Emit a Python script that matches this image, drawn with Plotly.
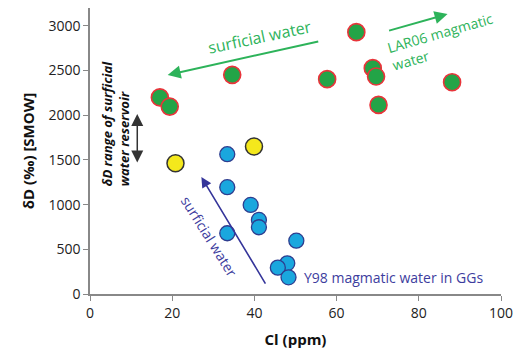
import plotly.graph_objects as go

# LAR06 magmatic water (green)
lar_cl = [17.0, 19.4, 34.6, 64.8, 57.7, 68.8, 69.6, 70.2, 88.1]
lar_dd = [2200, 2097, 2452, 2930, 2404, 2527, 2434, 2116, 2370]
# Yellow points
yel_cl = [20.8, 39.9]
yel_dd = [1463, 1650]
# Y98 magmatic water in GGs (blue)
y98_cl = [33.4, 33.4, 39.1, 41.1, 41.1, 33.4, 50.2, 48.0, 45.7, 48.3]
y98_dd = [1564, 1195, 997, 829, 747, 680, 597, 343, 295, 187]

x_ticks = [0, 20, 40, 60, 80, 100]
y_ticks = [0, 500, 1000, 1500, 2000, 2500, 3000]

FONT = "Open Sans"
GREEN = "#2db35a"
BLUE_T = "#3d3d9e"

fig = go.Figure()
fig.add_trace(go.Scatter(x=y98_cl, y=y98_dd, mode="markers",
                         marker=dict(size=15, color="#1aa7de", line=dict(color="#2e3d8f", width=1.3))))
fig.add_trace(go.Scatter(x=yel_cl, y=yel_dd, mode="markers",
                         marker=dict(size=17, color="#f4e81c", line=dict(color="#333333", width=1.5))))
fig.add_trace(go.Scatter(x=lar_cl, y=lar_dd, mode="markers",
                         marker=dict(size=17, color="#23a447", line=dict(color="#e8343a", width=1.6))))

ann = []
# green arrow toward surficial water
ann.append(dict(x=18.9, y=2450, ax=55.9, ay=2830, xref="x", yref="y", axref="x", ayref="y",
                showarrow=True, arrowhead=2, arrowsize=1.3, arrowwidth=2, arrowcolor=GREEN, text=""))
ann.append(dict(x=41.3, y=2880, xref="x", yref="y", text="surficial water", showarrow=False,
                textangle=-12, font=dict(family=FONT, size=16, color=GREEN)))
# green arrow toward LAR06
ann.append(dict(x=87.0, y=3132, ax=72.4, ay=2942, xref="x", yref="y", axref="x", ayref="y",
                showarrow=True, arrowhead=2, arrowsize=1.3, arrowwidth=2, arrowcolor=GREEN, text=""))
ann.append(dict(x=85.8, y=2830, xref="x", yref="y", text="LAR06 magmatic<br>water", showarrow=False,
                align="left", textangle=-16, font=dict(family=FONT, size=14, color=GREEN)))
# black double arrow
ann.append(dict(x=11.5, y=1470, ax=11.5, ay=2030, xref="x", yref="y", axref="x", ayref="y",
                showarrow=True, arrowhead=2, startarrowhead=2, arrowside="end+start",
                arrowsize=1.6, startarrowsize=1.6, arrowwidth=1.5, arrowcolor="#333333", text=""))
ann.append(dict(x=6.1, y=1900, xref="x", yref="y",
                text="<b><i>δD range of surficial<br>water reservoir</i></b>", showarrow=False,
                align="left", textangle=-90, font=dict(family=FONT, size=13, color="#111111")))
# blue arrow
ann.append(dict(x=27.1, y=1309, ax=42.9, ay=100, xref="x", yref="y", axref="x", ayref="y",
                showarrow=True, arrowhead=2, arrowsize=1.3, arrowwidth=1.6, arrowcolor="#35359a", text=""))
ann.append(dict(x=29.0, y=640, xref="x", yref="y", text="surficial water", showarrow=False,
                textangle=58, font=dict(family=FONT, size=14, color=BLUE_T)))
ann.append(dict(x=73.8, y=190, xref="x", yref="y", text="Y98 magmatic water in GGs", showarrow=False,
                font=dict(family=FONT, size=14, color=BLUE_T)))

fig.update_layout(
    width=517, height=351,
    margin=dict(l=90, r=16, t=8, b=57),
    paper_bgcolor="white", plot_bgcolor="white",
    showlegend=False,
    annotations=ann,
    font=dict(family=FONT, size=14, color="#222222"),
    xaxis=dict(range=[0, 100], tickvals=x_ticks, showgrid=False, zeroline=False,
               showline=True, linecolor="#888888", linewidth=1.5, automargin=False,
               ticks="outside", ticklen=5, tickcolor="#888888",
               title=dict(text="<b>Cl (ppm)</b>", font=dict(family=FONT, size=15, color="#111111"), standoff=14)),
    yaxis=dict(range=[0, 3200], tickvals=y_ticks, showgrid=False, zeroline=False,
               showline=True, linecolor="#888888", linewidth=1.5, automargin=False,
               ticks="outside", ticklen=5, tickcolor="#888888",
               title=dict(text="<b>δD (‰) [SMOW]</b>", font=dict(family=FONT, size=15, color="#111111"), standoff=10)),
)

fig.write_html("out.html",
               config={"displayModeBar": False},
               post_script="document.body.style.margin='0';document.body.style.overflow='hidden';")
